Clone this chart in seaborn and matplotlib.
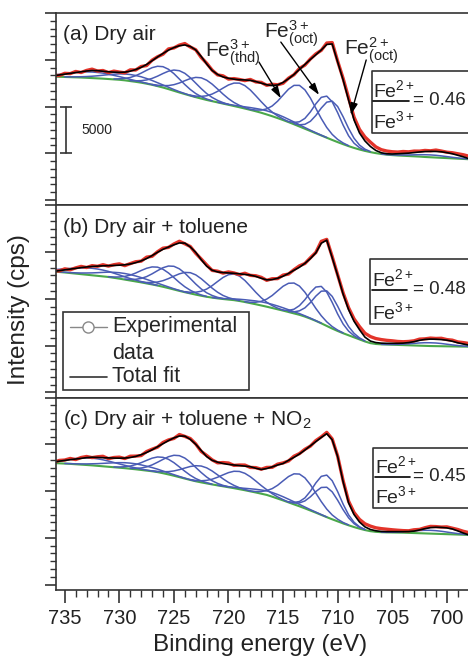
import numpy as np
import matplotlib
matplotlib.use('Agg')
import matplotlib.pyplot as plt
from matplotlib.patches import Rectangle
from matplotlib.lines import Line2D
from matplotlib.ticker import MultipleLocator, AutoMinorLocator
import seaborn as sns

# binding energy grid, 736 -> 698 eV in 0.5 eV steps (77 points)
energy = np.arange(736.0, 697.75, -0.5)

panel_titles = ['(a) Dry air', '(b) Dry air + toluene', '(c) Dry air + toluene + NO$_2$']
ratios = [0.46, 0.48, 0.45]

# ---- panel (a) ----
a_bg = [13200, 13180, 13160, 13140, 13120, 13100, 13070, 13040, 13010, 12980,
        12940, 12900, 12860, 12800, 12720, 12640, 12550, 12440, 12320, 12180,
        12030, 11860, 11680, 11500, 11330, 11160, 11000, 10850, 10700, 10570,
        10440, 10310, 10180, 10050, 9920, 9780, 9640, 9490, 9330, 9150,
        8960, 8760, 8550, 8330, 8100, 7860, 7620, 7380, 7140, 6900,
        6660, 6420, 6190, 5970, 5760, 5570, 5400, 5250, 5120, 5010,
        4920, 4850, 4800, 4760, 4730, 4700, 4670, 4640, 4600, 4570,
        4540, 4510, 4480, 4450, 4420, 4390, 4360]
a_fit = [13290, 13375, 13460, 13545, 13630, 13715, 13800, 13845, 13835, 13770,
         13715, 13675, 13655, 13675, 13780, 13955, 14190, 14500, 14895, 15300,
         15675, 16030, 16305, 16500, 16585, 16425, 16050, 15355, 14550, 13855,
         13430, 13160, 13020, 12925, 12860, 12840, 12795, 12670, 12500, 12325,
         12240, 12305, 12575, 12970, 13430, 13965, 14500, 15035, 15535, 16050,
         16640, 16690, 14765, 12840, 10700, 8560, 7170, 6315, 5725, 5295,
         5050, 4945, 4920, 4945, 4975, 5010, 5070, 5135, 5180, 5200,
         5190, 5155, 5070, 4945, 4785, 4620, 4430]
a_resid = [40, -60, 90, -30, 120, -80, 60, 150, -40, 80,
           -90, 110, 30, -70, 140, -50, 90, -120, 60, 20,
           -80, 130, -40, 70, 150, -60, 20, -110, 80, 40,
           -50, 120, -90, 60, 30, -70, 100, -40, 80, -60,
           140, 20, -90, 60, -30, 110, -70, 50, 90, -40,
           150, 150, 80, 160, 220, 300, 380, 420, 460, 380,
           330, 290, 240, 180, 210, 140, 160, 90, 120, 60,
           150, 80, 40, 110, 160, 220, 260]
# fitted components: (start energy, heights above background every 0.5 eV)
a_comps = [
    (736.0, [180, 260, 340, 430, 520, 590, 630, 650, 630, 590, 520, 430, 340, 260, 180, 120, 80, 50, 30, 15]),
    (735.0, [15, 30, 55, 85, 135, 200, 275, 365, 465, 555, 630, 680, 700, 680, 630, 555, 465, 365, 275, 200, 135, 85, 55, 30, 15]),
    (730.5, [40, 100, 205, 385, 660, 1020, 1435, 1835, 2125, 2230, 2125, 1835, 1435, 1020, 660, 385, 205, 100, 40]),
    (729.0, [45, 105, 215, 400, 685, 1065, 1500, 1920, 2220, 2330, 2220, 1920, 1500, 1065, 685, 400, 215, 105, 45]),
    (727.0, [40, 100, 205, 380, 655, 1015, 1430, 1825, 2115, 2220, 2115, 1825, 1430, 1015, 655, 380, 205, 100, 40]),
    (723.5, [50, 115, 235, 445, 760, 1180, 1660, 2125, 2455, 2580, 2455, 2125, 1660, 1180, 760, 445, 235, 115, 50]),
    (721.0, [20, 30, 55, 85, 130, 185, 245, 300, 355, 390, 400, 390, 355, 300, 245, 185, 130, 85, 55, 30, 20]),
    (718.0, [50, 130, 290, 595, 1095, 1810, 2670, 3525, 4160, 4400, 4160, 3525, 2670, 1810, 1095, 595, 290, 130, 50]),
    (714.5, [60, 195, 505, 1110, 2040, 3145, 4080, 4450, 4080, 3145, 2040, 1110, 505, 195, 60]),
    (714.0, [60, 185, 475, 1035, 1900, 2935, 3805, 4150, 3805, 2935, 1900, 1035, 475, 185, 60]),
    (706.0, [5, 10, 25, 45, 75, 115, 160, 205, 240, 250, 240, 205, 160, 115, 75, 45, 25]),
]

# ---- panel (b) ----
b_bg = [12920, 12870, 12820, 12760, 12700, 12640, 12580, 12520, 12460, 12400,
        12340, 12250, 12160, 12060, 11960, 11860, 11760, 11650, 11540, 11420,
        11290, 11150, 11000, 10850, 10710, 10580, 10450, 10330, 10220, 10130,
        10050, 9980, 9920, 9860, 9770, 9660, 9540, 9420, 9290, 9160,
        9020, 8880, 8740, 8590, 8440, 8290, 8100, 7880, 7640, 7380,
        7100, 6820, 6560, 6320, 6100, 5880, 5660, 5440, 5260, 5170,
        5130, 5110, 5090, 5070, 5050, 5030, 5010, 4990, 4970, 4950,
        4940, 4930, 4920, 4910, 4900, 4890, 4880]
b_fit = [12930, 13020, 13100, 13180, 13260, 13340, 13410, 13460, 13500, 13530,
         13550, 13570, 13600, 13640, 13730, 13870, 14060, 14310, 14630, 14980,
         15300, 15540, 15780, 15980, 15960, 15550, 14970, 14190, 13500, 13060,
         12880, 12810, 12770, 12730, 12680, 12610, 12540, 12400, 12200, 12030,
         12060, 12200, 12420, 12720, 13060, 13380, 13800, 14300, 14920, 15950,
         16280, 14400, 12500, 10500, 8850, 7600, 6700, 5900, 5480, 5320,
         5260, 5240, 5240, 5240, 5260, 5320, 5420, 5560, 5660, 5690,
         5680, 5640, 5580, 5460, 5300, 5170, 5050]
b_resid = [60, -40, 110, -70, 50, 130, -60, 90, -20, 120,
           -50, 80, 140, -90, 40, 100, -30, 150, -80, 60,
           120, -40, 90, 180, -70, 50, -100, 70, 130, -20,
           80, -60, 110, 40, -90, 130, -30, 70, 100, -50,
           90, -40, 120, -70, 60, 150, -20, 90, 40, 200,
           80, 120, 60, 140, 200, 260, 330, 420, 480, 430,
           380, 320, 270, 200, 150, 120, 90, 130, 60, 110,
           80, 140, 60, 120, 90, 150, 180]
b_comps = [
    (736.0, [210, 295, 395, 495, 595, 675, 730, 750, 730, 675, 595, 495, 395, 295, 210, 145, 90, 55, 35, 20]),
    (735.5, [15, 30, 50, 80, 125, 185, 255, 340, 430, 515, 585, 635, 650, 635, 585, 515, 430, 340, 255, 185, 125, 80, 50, 30, 15]),
    (731.0, [35, 85, 180, 340, 580, 900, 1270, 1620, 1875, 1970, 1875, 1620, 1270, 900, 580, 340, 180, 85, 35]),
    (729.5, [45, 110, 230, 425, 730, 1135, 1595, 2040, 2360, 2480, 2360, 2040, 1595, 1135, 730, 425, 230, 110, 45]),
    (728.0, [40, 100, 205, 380, 655, 1015, 1430, 1825, 2115, 2220, 2115, 1825, 1430, 1015, 655, 380, 205, 100, 40]),
    (724.0, [55, 125, 260, 480, 825, 1280, 1805, 2305, 2665, 2800, 2665, 2305, 1805, 1280, 825, 480, 260, 125, 55]),
    (721.5, [20, 30, 55, 85, 130, 185, 245, 300, 355, 390, 400, 390, 355, 300, 245, 185, 130, 85, 55, 30, 20]),
    (718.5, [35, 95, 215, 440, 810, 1335, 1975, 2605, 3075, 3250, 3075, 2605, 1975, 1335, 810, 440, 215, 95, 35]),
    (715.0, [55, 175, 450, 985, 1810, 2795, 3620, 3950, 3620, 2795, 1810, 985, 450, 175, 55]),
    (714.5, [55, 165, 430, 935, 1720, 2650, 3440, 3750, 3440, 2650, 1720, 935, 430, 165, 55]),
    (706.0, [5, 15, 30, 60, 105, 160, 225, 290, 335, 350, 335, 290, 225, 160, 105, 60, 30]),
]

# ---- panel (c) ----
c_bg = [13000, 12980, 12950, 12920, 12880, 12840, 12800, 12760, 12710, 12660,
        12610, 12560, 12510, 12460, 12400, 12340, 12270, 12200, 12130, 12040,
        11920, 11790, 11650, 11500, 11350, 11200, 11060, 10940, 10830, 10720,
        10620, 10520, 10420, 10320, 10210, 10100, 9980, 9860, 9730, 9600,
        9410, 9210, 9010, 8800, 8590, 8380, 8160, 7930, 7700, 7460,
        7220, 6990, 6770, 6550, 6350, 6160, 5990, 5840, 5720, 5650,
        5610, 5590, 5580, 5570, 5560, 5540, 5520, 5500, 5480, 5460,
        5440, 5420, 5400, 5380, 5360, 5340, 5320]
c_fit = [13120, 13210, 13290, 13370, 13440, 13510, 13590, 13630, 13610, 13580,
         13560, 13540, 13530, 13540, 13600, 13720, 13900, 14140, 14430, 14750,
         15080, 15410, 15700, 15900, 15890, 15540, 15010, 14350, 13700, 13300,
         13100, 12960, 12860, 12800, 12740, 12680, 12620, 12450, 12320, 12420,
         12600, 12800, 12960, 13300, 13620, 13980, 14400, 14850, 15300, 15750,
         16150, 15500, 13700, 11000, 8750, 7500, 6700, 6180, 5900, 5760,
         5690, 5670, 5670, 5670, 5670, 5680, 5730, 5850, 5990, 6100,
         6140, 6120, 6070, 5960, 5750, 5520, 5330]
c_resid = [-30, 80, 40, 130, -60, 90, 120, -40, 70, 150,
           -80, 60, 110, -50, 140, 30, -90, 100, 60, -40,
           130, 70, -60, 160, -30, 90, 40, -100, 120, 50,
           -70, 100, 150, -40, 60, 110, -80, 70, 30, 120,
           -50, 90, 60, -70, 120, 40, 80, -30, 110, 60,
           140, 90, 50, 120, 180, 220, 280, 330, 360, 320,
           300, 260, 200, 150, 110, 80, 140, 60, 100, 130,
           70, 40, 110, 80, 150, 190, 240]
c_comps = [
    (736.0, [215, 305, 405, 510, 610, 695, 750, 770, 750, 695, 610, 510, 405, 305, 215, 145, 95, 60, 35, 20]),
    (735.0, [15, 25, 45, 75, 115, 170, 235, 315, 395, 475, 540, 585, 600, 585, 540, 475, 395, 315, 235, 170, 115, 75, 45, 25, 15]),
    (730.5, [30, 75, 155, 290, 500, 780, 1095, 1400, 1620, 1700, 1620, 1400, 1095, 780, 500, 290, 155, 75, 30]),
    (729.0, [45, 100, 210, 395, 680, 1055, 1480, 1895, 2190, 2300, 2190, 1895, 1480, 1055, 680, 395, 210, 100, 45]),
    (727.0, [35, 75, 160, 300, 515, 800, 1125, 1440, 1665, 1750, 1665, 1440, 1125, 800, 515, 300, 160, 75, 35]),
    (723.5, [35, 85, 175, 325, 560, 870, 1225, 1565, 1810, 1900, 1810, 1565, 1225, 870, 560, 325, 175, 85, 35]),
    (721.0, [20, 35, 60, 95, 145, 205, 275, 340, 395, 435, 450, 435, 395, 340, 275, 205, 145, 95, 60, 35, 20]),
    (718.0, [40, 100, 230, 465, 860, 1420, 2095, 2765, 3265, 3450, 3265, 2765, 2095, 1420, 860, 465, 230, 100, 40]),
    (714.5, [65, 200, 515, 1120, 2060, 3180, 4125, 4500, 4125, 3180, 2060, 1120, 515, 200, 65]),
    (714.5, [45, 140, 365, 795, 1465, 2260, 2935, 3200, 2935, 2260, 1465, 795, 365, 140, 45]),
    (706.0, [5, 15, 30, 60, 105, 160, 225, 290, 335, 350, 335, 290, 225, 160, 105, 60, 30]),
]

# peak labels in panel (a): label, arrow tip (eV, cps)
peak_labels = [r'Fe$^{3+}_{\mathrm{(thd)}}$', r'Fe$^{3+}_{\mathrm{(oct)}}$', r'Fe$^{2+}_{\mathrm{(oct)}}$']
peak_tips = [(715.2, 10880), (711.7, 11235), (708.8, 9100)]
scalebar_cps = 5000

RED = '#e3342a'
BLUE = '#4a5cb5'
GREEN = '#4aa84a'
EDGE = '#333333'

sns.set_style('ticks')
plt.rcParams['font.family'] = ['Liberation Sans', 'DejaVu Sans']
plt.rcParams['mathtext.fontset'] = 'custom'
plt.rcParams['mathtext.rm'] = 'Liberation Sans'
plt.rcParams['mathtext.it'] = 'Liberation Sans:italic'
plt.rcParams['mathtext.bf'] = 'Liberation Sans:bold'

fig = plt.figure(figsize=(4.68, 6.58), dpi=100)
left, width, ph = 0.1197, 0.9167, 0.2923
bottoms = [0.1033 + 2 * ph, 0.1033 + ph, 0.1033]
axes = [fig.add_axes([left, b, width, ph]) for b in bottoms]

panels = [(a_bg, a_fit, a_resid, a_comps),
          (b_bg, b_fit, b_resid, b_comps),
          (c_bg, c_fit, c_resid, c_comps)]
box_pos = [(0.737, 0.376, 0.322), (0.733, 0.383, 0.337), (0.740, 0.425, 0.315)]

for i, (ax, (bg, fit, resid, comps)) in enumerate(zip(axes, panels)):
    bg = np.array(bg, dtype=float)
    fit = np.array(fit, dtype=float)
    data = fit + np.array(resid, dtype=float)

    sns.lineplot(x=energy, y=bg, ax=ax, color=GREEN, linewidth=1.5)
    for start, heights in comps:
        i0 = int(round((energy[0] - start) / 0.5))
        n = len(heights)
        sns.lineplot(x=energy[i0:i0 + n], y=bg[i0:i0 + n] + np.array(heights),
                     ax=ax, color=BLUE, linewidth=1.1)
    sns.lineplot(x=energy, y=data, ax=ax, color=RED, linewidth=2.4)
    sns.lineplot(x=energy, y=fit, ax=ax, color='black', linewidth=1.2)

    ax.set_xlim(735.8, 696.5)
    ax.set_ylim(-576, 20000)
    ax.set_xlabel('')
    ax.set_ylabel('')
    for sp in ax.spines.values():
        sp.set_color(EDGE)
        sp.set_linewidth(1.2)
    ax.spines['right'].set_visible(False)

    ax.yaxis.set_major_locator(MultipleLocator(5000))
    ax.yaxis.set_minor_locator(AutoMinorLocator(6))
    ax.tick_params(axis='y', which='major', length=8, width=1.2, color=EDGE, labelleft=False, direction='out')
    ax.tick_params(axis='y', which='minor', length=4.5, width=1.0, color=EDGE, direction='out')

    if i < 2:
        ax.tick_params(axis='x', which='both', bottom=False, labelbottom=False)
    else:
        ax.xaxis.set_major_locator(MultipleLocator(5))
        ax.xaxis.set_minor_locator(MultipleLocator(1))
        ax.tick_params(axis='x', which='major', length=9, width=1.2, color=EDGE,
                       labelsize=14.5, pad=5, direction='out', labelcolor='#222222')
        ax.tick_params(axis='x', which='minor', length=5, width=1.0, color=EDGE, direction='out')

    ax.text(0.016, 0.886, panel_titles[i], transform=ax.transAxes, fontsize=15,
            va='center', ha='left', color='#222222')

    # ratio box, open on the right where the figure is cut
    x0, y0, h = box_pos[i]
    ax.add_line(Line2D([1.08, x0, x0, 1.08], [y0, y0, y0 + h, y0 + h],
                       transform=ax.transAxes, color=EDGE, lw=1.2, clip_on=False))
    ax.text(x0 + 0.003, y0 + 0.58 * h, 'Fe$^{2+}$', transform=ax.transAxes,
            fontsize=14, va='baseline', ha='left')
    ax.add_line(Line2D([x0 + 0.003, x0 + 0.085], [y0 + 0.52 * h] * 2,
                       transform=ax.transAxes, color='black', lw=1.2))
    ax.text(x0 + 0.003, y0 + 0.08 * h, 'Fe$^{3+}$', transform=ax.transAxes,
            fontsize=14, va='baseline', ha='left')
    ax.text(0.9555, y0 + 0.53 * h, '= %.2f' % ratios[i], transform=ax.transAxes,
            fontsize=13.5, va='center', ha='right')

# panel (a): peak labels with arrows and the scale bar
ax = axes[0]
label_pos = [(0.347, 0.771), (0.485, 0.870), (0.671, 0.781)]
tail_pos = [(0.473, 0.745), (0.524, 0.849), (0.723, 0.756)]
for lab, lp, tp, tip in zip(peak_labels, label_pos, tail_pos, peak_tips):
    ax.text(lp[0], lp[1], lab, transform=ax.transAxes, fontsize=15, va='baseline', ha='left')
    ax.annotate('', xy=tip, xycoords='data', xytext=tp, textcoords='axes fraction',
                arrowprops=dict(arrowstyle='-|>,head_length=0.7,head_width=0.22',
                                color='black', lw=1.0, shrinkA=0, shrinkB=0))
ax.plot([734.85, 734.85], [scalebar_cps, 2 * scalebar_cps], color=EDGE, lw=1.2,
        marker='_', markersize=8, markeredgewidth=1.2)
ax.text(733.45, 1.5 * scalebar_cps, str(scalebar_cps), fontsize=10, va='center', ha='left')

# panel (b): legend drawn as a box
ax = axes[1]
ax.add_patch(Rectangle((0.0163, 0.040), 0.434, 0.407, transform=ax.transAxes,
                       fill=True, fc='white', ec=EDGE, lw=1.2, zorder=5))
ax.add_line(Line2D([0.0326, 0.119], [0.369, 0.369], transform=ax.transAxes,
                   color='#888888', lw=1.0, zorder=6))
ax.add_line(Line2D([0.0756], [0.369], transform=ax.transAxes, marker='o', ms=8,
                   mfc='white', mec='#888888', mew=1.0, zorder=7))
ax.add_line(Line2D([0.0326, 0.119], [0.109, 0.109], transform=ax.transAxes,
                   color='#333333', lw=1.2, zorder=6))
ax.text(0.1305, 0.369, 'Experimental', transform=ax.transAxes, fontsize=15.5,
        va='center', ha='left', zorder=7)
ax.text(0.1305, 0.231, 'data', transform=ax.transAxes, fontsize=15.5,
        va='center', ha='left', zorder=7)
ax.text(0.1305, 0.109, 'Total fit', transform=ax.transAxes, fontsize=15.5,
        va='center', ha='left', zorder=7)

fig.text(0.040, 0.529, 'Intensity (cps)', rotation=90, fontsize=17.5,
         va='center', ha='center', color='#222222')
fig.text(0.556, 0.020, 'Binding energy (eV)', fontsize=17.5,
         va='center', ha='center', color='#222222')

fig.savefig('out.png', dpi=100)
